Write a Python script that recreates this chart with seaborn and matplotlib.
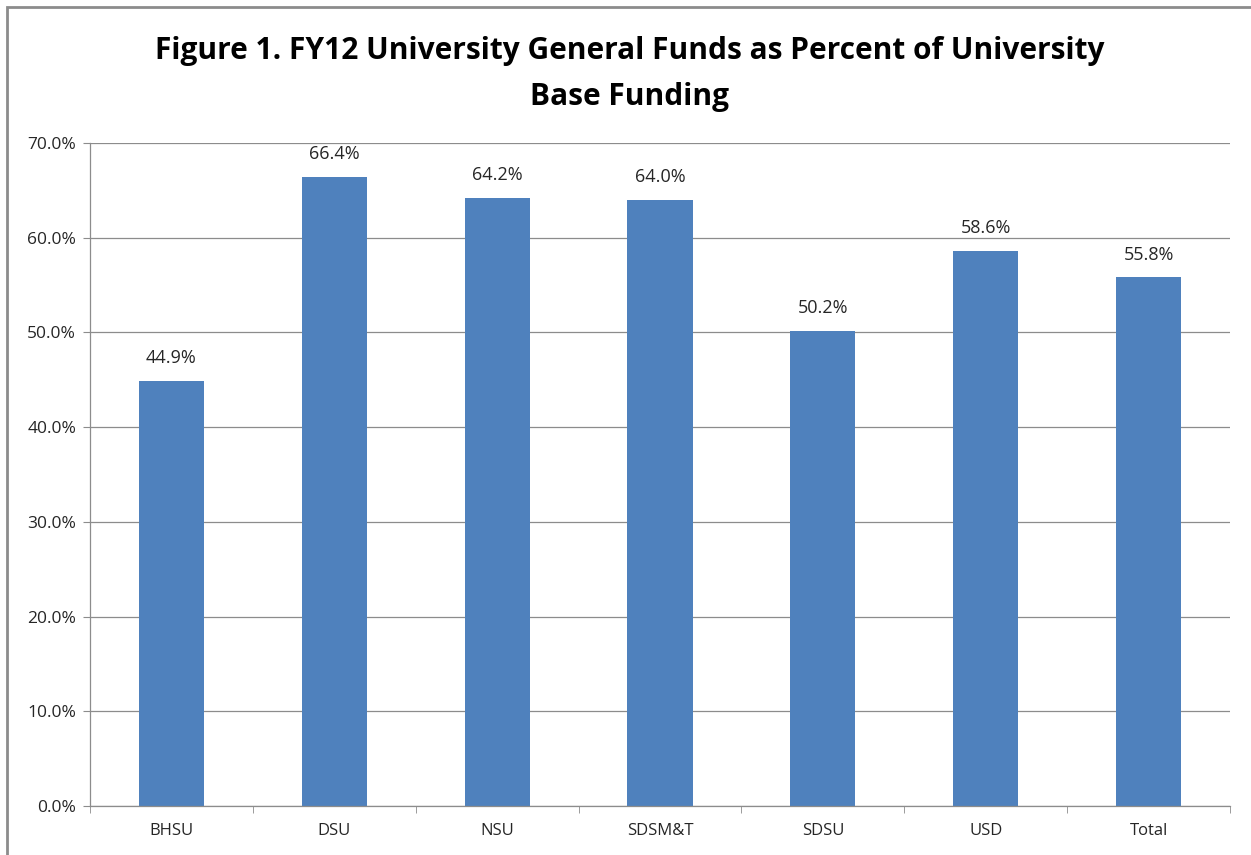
import matplotlib
matplotlib.use("Agg")
import matplotlib.pyplot as plt
import matplotlib.ticker as mticker
from matplotlib.patches import Rectangle
import numpy as np
import pandas as pd
import seaborn as sns

universities = ["BHSU", "DSU", "NSU", "SDSM&T", "SDSU", "USD", "Total"]
pct_general_funds = [44.9, 66.4, 64.2, 64.0, 50.2, 58.6, 55.8]
y_ticks = [0, 10, 20, 30, 40, 50, 60, 70]

df = pd.DataFrame({"University": universities, "Percent": pct_general_funds})

sns.set_style("white")
plt.rcParams["font.family"] = ["Open Sans", "DejaVu Sans"]

fig = plt.figure(figsize=(12.51, 8.55), dpi=100)
ax = fig.add_axes([90 / 1251, 1 - 806 / 855, (1230 - 90) / 1251, (806 - 143) / 855])

sns.barplot(data=df, x="University", y="Percent", color="#4F81BD",
            saturation=1, width=0.4, linewidth=0, ax=ax)

ax.set_ylim(0, 70)
ax.set_xlim(-0.5, len(universities) - 0.5)
ax.set_yticks(y_ticks)
ax.yaxis.set_major_formatter(mticker.FuncFormatter(lambda v, p: f"{v:.1f}%"))
ax.yaxis.grid(True, color="#8c8c8c", linewidth=0.9)
ax.set_axisbelow(True)
ax.set_xlabel("")
ax.set_ylabel("")

for s in ["top", "right"]:
    ax.spines[s].set_visible(False)
for s in ["left", "bottom"]:
    ax.spines[s].set_color("#8c8c8c")
    ax.spines[s].set_linewidth(0.9)

ax.tick_params(axis="y", which="major", length=5, color="#8c8c8c",
               labelsize=12.5, labelcolor="#262626", left=True, pad=5)
ax.tick_params(axis="x", which="major", length=0, labelsize=12,
               labelcolor="#262626", pad=12)
ax.set_xticks(np.arange(-0.5, len(universities)), minor=True)
ax.tick_params(axis="x", which="minor", length=5, color="#8c8c8c", bottom=True)

for i, v in enumerate(pct_general_funds):
    ax.annotate(f"{v:.1f}%", (i, v), xytext=(0, 10), textcoords="offset points",
                ha="center", va="bottom", fontsize=13, color="#262626")

fig.text(630 / 1251, 1 - 51 / 855,
         "Figure 1. FY12 University General Funds as Percent of University",
         ha="center", va="center", fontsize=21.5, fontweight="bold", color="black")
fig.text(630 / 1251, 1 - 97 / 855, "Base Funding",
         ha="center", va="center", fontsize=21.5, fontweight="bold", color="black")

fig.patches.append(Rectangle((7 / 1251, -0.1), 1.2, 1.1 - 7 / 855,
                             transform=fig.transFigure, fill=False,
                             edgecolor="#8c8c8c", linewidth=2))

fig.savefig("out.png", dpi=100)
